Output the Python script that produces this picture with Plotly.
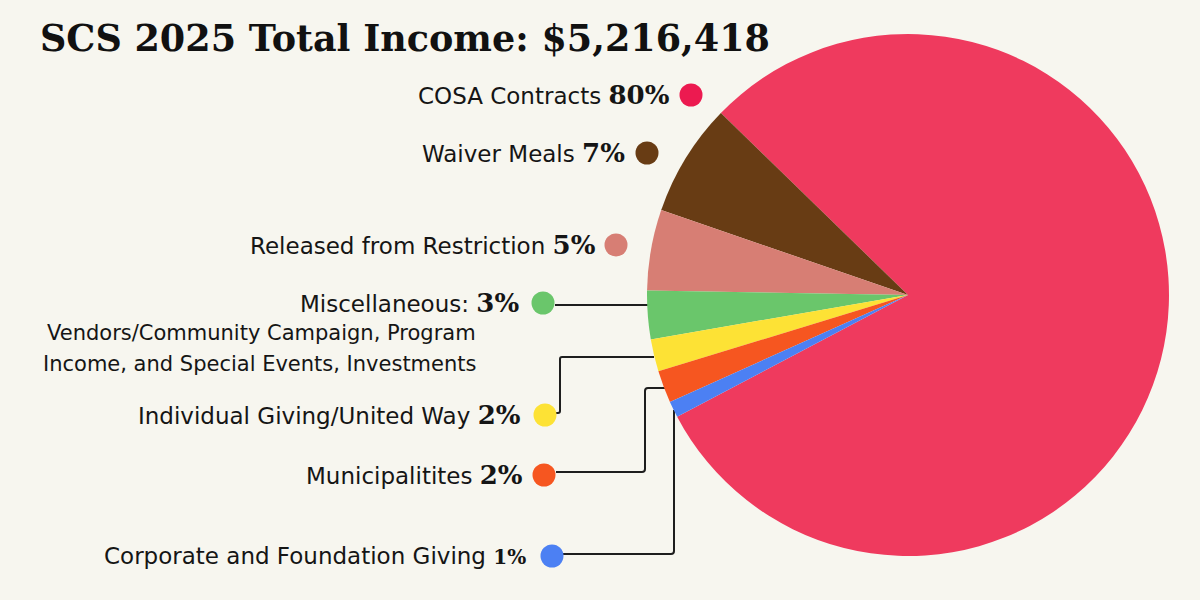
import plotly.graph_objects as go

# Data
labels = ["COSA Contracts", "Waiver Meals", "Released from Restriction",
          "Miscellaneous", "Individual Giving/United Way", "Municipalitites",
          "Corporate and Foundation Giving"]
values = [80, 7, 5, 3, 2, 2, 1]
pct_text = ["80%", "7%", "5%", "3%", "2%", "2%", "1%"]
slice_colors = ["#EF3A5E", "#683C14", "#D77E74", "#6AC66B", "#FDE235", "#F65620", "#4C80F3"]
dot_colors = ["#EC1A50", "#683C14", "#D77E74", "#6AC66B", "#FDE235", "#F65620", "#4C80F3"]
title_text = "SCS 2025 Total Income: $5,216,418"
misc_note = ["Vendors/Community Campaign, Program",
             "Income, and Special Events, Investments"]

# Layout helpers (pixel coords, y down)
label_y = [95, 153, 245, 303, 415, 475, 556]
label_right = [672, 627, 598, 521, 523, 525, 528]
dot_x = [691, 647, 616, 543, 545, 544, 552]
pct_size = [26, 26, 26, 26, 26, 26, 20]

BG = "#F7F6EF"
SANS = "DejaVu Sans"
SERIF = "DejaVu Serif"

fig = go.Figure()

fig.add_trace(go.Pie(
    labels=labels, values=values,
    marker=dict(colors=slice_colors, line=dict(width=0)),
    sort=False, direction="counterclockwise", rotation=-45.8,
    textinfo="none", hoverinfo="label+percent", showlegend=False,
    domain=dict(x=[(908 - 261) / 1200, (908 + 261) / 1200],
                y=[1 - 556 / 600, 1 - 34 / 600]),
))

# invisible overlay axis in pixel units for labels and connectors
fig.add_trace(go.Scatter(x=[0, 1200], y=[0, 600], mode="markers",
                         marker=dict(opacity=0), hoverinfo="skip", showlegend=False))

annotations = [dict(
    x=38, y=38, xref="x", yref="y", xanchor="left", yanchor="middle",
    text="<b>" + title_text + "</b>", showarrow=False,
    font=dict(family=SERIF, size=36.5, color="#111111"),
)]
for i, lab in enumerate(labels):
    name = lab + (":" if lab == "Miscellaneous" else "")
    annotations.append(dict(
        x=label_right[i], y=label_y[i], xref="x", yref="y",
        xanchor="right", yanchor="middle", showarrow=False,
        text=name + " <span style='font-family:" + SERIF + "; font-size:"
        + str(pct_size[i]) + "px'><b>" + pct_text[i] + "</b></span>",
        font=dict(family=SANS, size=23, color="#151515"),
    ))
for j, line in enumerate(misc_note):
    annotations.append(dict(
        x=478, y=333 + j * 31, xref="x", yref="y",
        xanchor="right", yanchor="middle", showarrow=False, text=line,
        font=dict(family=SANS, size=21, color="#151515"),
    ))

shapes = []
for i in range(len(labels)):
    shapes.append(dict(type="circle", xref="x", yref="y",
                       x0=dot_x[i] - 11.5, x1=dot_x[i] + 11.5,
                       y0=label_y[i] - 11.5, y1=label_y[i] + 11.5,
                       fillcolor=dot_colors[i], line=dict(width=0)))

connectors = [
    "M 555 305 L 649 305",
    "M 556 413 L 558 413 Q 560 413 560 411 L 560 359 Q 560 357 562 357 L 654 357",
    "M 556 472 L 642 472 Q 645 472 645 469 L 645 391 Q 645 388 648 388 L 666 388",
    "M 563 554 L 671 554 Q 674 554 674 551 L 674 410",
]
for p in connectors:
    shapes.append(dict(type="path", xref="x", yref="y", path=p,
                       line=dict(color="#1E1E1E", width=2), layer="below"))

fig.update_layout(
    width=1200, height=600,
    margin=dict(l=0, r=0, t=0, b=0),
    paper_bgcolor=BG, plot_bgcolor="rgba(0,0,0,0)",
    xaxis=dict(range=[0, 1200], visible=False, fixedrange=True),
    yaxis=dict(range=[600, 0], visible=False, fixedrange=True),
    annotations=annotations, shapes=shapes,
)

fig.write_html("out.html", config={"displayModeBar": False},
               post_script="document.body.style.margin='0';")
